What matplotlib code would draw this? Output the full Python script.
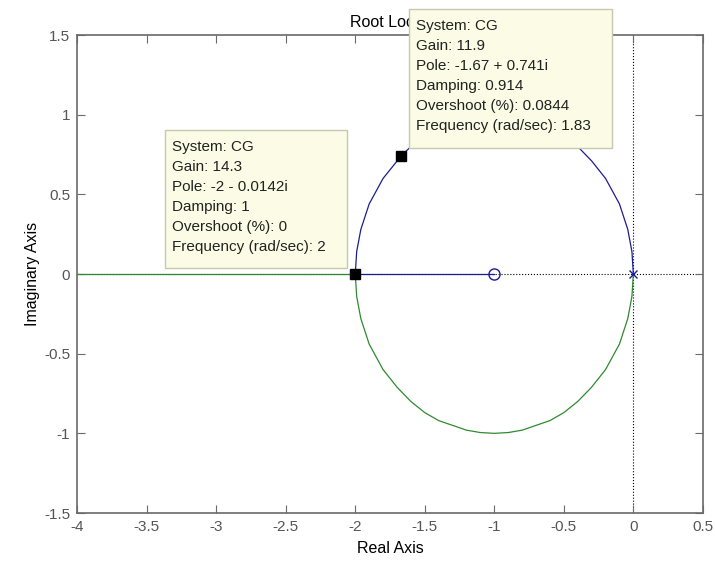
import matplotlib.pyplot as plt
from matplotlib.patches import Rectangle

plt.rcParams['font.family'] = ['Liberation Sans', 'DejaVu Sans']

# upper branch (blue): from pole at 0 round to breakaway at -2
up_x = [0.0, -0.01, -0.04, -0.1, -0.2, -0.3, -0.4, -0.5, -0.6, -0.7, -0.8, -0.9,
        -1.0, -1.1, -1.2, -1.3, -1.4, -1.5, -1.6, -1.67, -1.8, -1.9, -1.96, -1.99, -2.0]
up_y = [0.0, 0.14, 0.28, 0.44, 0.6, 0.71, 0.8, 0.87, 0.92, 0.95, 0.98, 0.995,
        1.0, 0.995, 0.98, 0.95, 0.92, 0.87, 0.8, 0.741, 0.6, 0.44, 0.28, 0.14, 0.0]
# lower branch (green)
lo_x = [0.0, -0.01, -0.04, -0.1, -0.2, -0.3, -0.4, -0.5, -0.6, -0.7, -0.8, -0.9,
        -1.0, -1.1, -1.2, -1.3, -1.4, -1.5, -1.6, -1.7, -1.8, -1.9, -1.96, -1.99, -2.0]
lo_y = [0.0, -0.14, -0.28, -0.44, -0.6, -0.71, -0.8, -0.87, -0.92, -0.95, -0.98, -0.995,
        -1.0, -0.995, -0.98, -0.95, -0.92, -0.87, -0.8, -0.71, -0.6, -0.44, -0.28, -0.14, 0.0]
# real-axis segments
blue_real_x = [-2.0, -1.0]
green_real_x = [-4.0, -2.0]
zero_x, zero_y = -1.0, 0.0
pole_x, pole_y = 0.0, 0.0
tip_x = [-2.0, -1.67]
tip_y = [0.0, 0.741]

tip1 = ["System: CG", "Gain: 14.3", "Pole: -2 - 0.0142i", "Damping: 1",
        "Overshoot (%): 0", "Frequency (rad/sec): 2"]
tip2 = ["System: CG", "Gain: 11.9", "Pole: -1.67 + 0.741i", "Damping: 0.914",
        "Overshoot (%): 0.0844", "Frequency (rad/sec): 1.83"]

blue = '#1c1c94'
green = '#2f8a2f'
frame = '#6a6a6a'

fig = plt.figure(figsize=(7.15, 5.64), dpi=100)
ax = fig.add_axes([0.108, 0.0904, 0.875, 0.8475])

ax.axhline(0, color='k', ls=':', lw=0.8, zorder=1)
ax.axvline(0, color='k', ls=':', lw=0.8, zorder=1)

ax.plot(up_x, up_y, color=blue, lw=0.9, zorder=2)
ax.plot(blue_real_x, [0, 0], color=blue, lw=0.9, zorder=2)
ax.plot(lo_x, lo_y, color=green, lw=0.9, zorder=2)
ax.plot(green_real_x, [0, 0], color=green, lw=0.9, zorder=2)
ax.plot(zero_x, zero_y, 'o', mfc='none', mec=blue, ms=8, mew=1, zorder=3)
ax.plot(pole_x, pole_y, 'x', color=blue, ms=6, mew=1, zorder=3)
ax.plot(tip_x, tip_y, 's', color='k', ms=7, zorder=4)

ax.set_xlim(-4, 0.5)
ax.set_ylim(-1.5, 1.5)
ax.set_xticks([-4, -3.5, -3, -2.5, -2, -1.5, -1, -0.5, 0, 0.5])
ax.set_xticklabels(['-4', '-3.5', '-3', '-2.5', '-2', '-1.5', '-1', '-0.5', '0', '0.5'])
ax.set_yticks([-1.5, -1, -0.5, 0, 0.5, 1, 1.5])
ax.set_yticklabels(['-1.5', '-1', '-0.5', '0', '0.5', '1', '1.5'])
ax.tick_params(direction='in', top=True, right=True, length=6, color=frame,
               labelcolor='#555555', labelsize=11, pad=5)
for s in ax.spines.values():
    s.set_color(frame)
    s.set_linewidth(1.2)
ax.set_xlabel('Real Axis', fontsize=11.5, labelpad=5)
ax.set_ylabel('Imaginary Axis', fontsize=11.5, labelpad=3)
ax.set_title('Root Locus', fontsize=11.5, pad=6)

W, H = 715.0, 564.0


def data_tip(x0, y0, x1, y1, lines):
    fig.add_artist(Rectangle((x0 / W, 1 - y1 / H), (x1 - x0) / W, (y1 - y0) / H,
                             transform=fig.transFigure, fc='#fcfce6', ec='#c8c8b0',
                             lw=1, zorder=10))
    fig.text((x0 + 7) / W, 1 - (y0 + 10) / H, "\n".join(lines), ha='left', va='top',
             fontsize=11, linespacing=1.55, color='#222222', zorder=11)


data_tip(165, 130, 347, 268, tip1)
data_tip(409, 9, 612, 148, tip2)

fig.savefig('out.png', dpi=100)
